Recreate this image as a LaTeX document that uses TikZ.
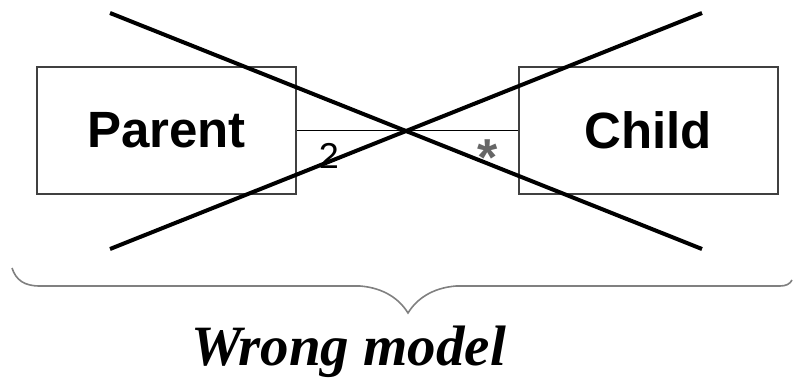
\documentclass[tikz,border=0pt]{standalone}
\usepackage{fontspec}
\setmainfont{Liberation Serif}
\setsansfont{Liberation Sans}
\begin{document}
\begin{tikzpicture}[x=1pt,y=-1pt,
  classbox/.style={draw=black!75,line width=2pt,minimum width=259pt,minimum height=127pt,inner sep=0pt,
    font=\fontsize{51}{51}\selectfont\sffamily\bfseries},
  assoc/.style={draw=black,line width=1.5pt},
  crossline/.style={draw=black,line width=4pt},
  bracestyle/.style={draw=black!50,line width=1.6pt},
  multlabel/.style={inner sep=0pt,font=\fontsize{36}{36}\selectfont\sffamily},
  caption/.style={inner sep=0pt,anchor=base,font=\fontsize{57}{57}\selectfont\rmfamily\bfseries\itshape}]
\useasboundingbox (0,0) rectangle (794,380);
\node[classbox] (parent) at (166.5,130.5) {Parent};
\node[classbox] (child) at (648,130.5) {Child};
\draw[assoc] (parent.east) -- (child.west);
\node[multlabel] (m1) at (329,156) {2};
\node[multlabel,text=black!60,font=\fontsize{52}{52}\selectfont\sffamily\bfseries] (m2) at (488,158) {*};
\coordinate (a1) at (110,13);
\coordinate (a2) at (702,249);
\coordinate (b1) at (110,249);
\coordinate (b2) at (702,13);
\draw[crossline] (a1) -- (a2);
\draw[crossline] (b1) -- (b2);
\draw[bracestyle] (12,268) .. controls (16,280) and (24,286) .. (40,286)
  -- (360,286) .. controls (385,288) and (400,300) .. (408,313)
  .. controls (416,300) and (431,288) .. (456,286)
  -- (780,286) .. controls (786,286) and (790,284) .. (792,280);
\node[caption] (cap) at (349,365) {Wrong model};
\end{tikzpicture}
\end{document}
